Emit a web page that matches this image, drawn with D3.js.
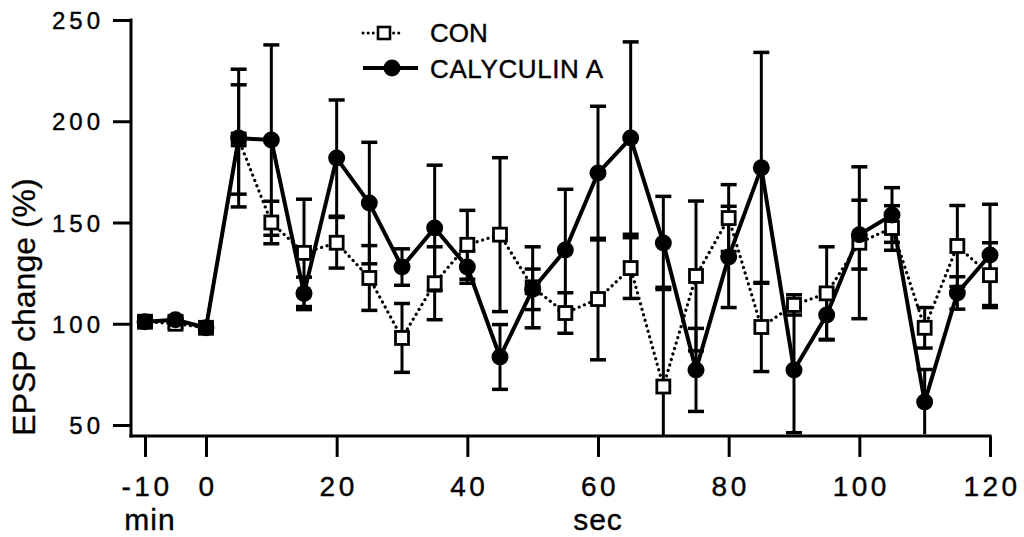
<!DOCTYPE html>
<html>
<head>
<meta charset="utf-8">
<script src="https://cdn.jsdelivr.net/npm/d3@7/dist/d3.min.js"></script>
<style>
  body { margin: 0; background: #fff; }
  svg { display: block; }
  text { font-family: "Liberation Sans", Arial, Helvetica, sans-serif; fill: #000; }
</style>
</head>
<body>
<svg id="chart" width="1024" height="537"></svg>
<script>
// Sampling times: -10 and -5 are minutes before stimulation, 0..120 are seconds after it
const times = [-10, -5, 0, 5, 10, 15, 20, 25, 30, 35, 40, 45, 50, 55, 60,
               65, 70, 75, 80, 85, 90, 95, 100, 105, 110, 115, 120];

// Control (open squares, dotted line): mean EPSP change (%) and SEM
const conMean = [101, 100, 98, 191, 150, 135, 140, 122.6, 93, 120, 139, 144, 118, 105.3, 112.2,
                 127.5, 69, 123.6, 152.2, 98.4, 109.3, 115, 140, 147.3, 98, 138.4, 124];
const conErr  = [2, 2, 2, 27, 10.5, 26.5, 12.5, 16, 17, 18, 17, 38, 20, 10, 30,
                 15, 49, 37, 16.5, 22, 5, 23, 37.5, 11, 10, 20, 16];

// Calyculin A (filled circles, solid line): mean EPSP change (%) and SEM
const calMean = [101, 102, 98, 191.7, 190.7, 115, 181.8, 159.6, 128, 147.3, 128, 83.6, 117, 136.4, 174.4,
                 191.7, 139.9, 77.2, 133, 177, 77.2, 104.3, 144, 153.7, 61.4, 115.2, 134];
const calErr  = [2, 2, 2, 34, 47, 8, 28.7, 30, 9, 31, 8, 16, 10, 30, 33,
                 47.5, 23, 20.5, 25, 57, 31, 12, 17, 13.5, 16, 8, 25];

const xTickValues = [-10, 0, 20, 40, 60, 80, 100, 120];
const yTickValues = [50, 100, 150, 200, 250];
const seriesNames = ["CON", "CALYCULIN A"];
const unitLabels = ["min", "sec"];
const yTitle = "EPSP change (%)";

const svg = d3.select("#chart");

// Broken time axis: minutes section on the left, seconds section after 0
const x = d3.scaleLinear().domain([-10, 0, 120]).range([145, 206, 990]);
const y = d3.scaleLinear().domain([50, 250]).range([425, 20]);
const yFloor = 44.6;             // value where the x axis sits
const axisY = y(yFloor);
const axisX = 131;

// ---- axes ----
const xAxis = d3.axisBottom(x).tickValues(xTickValues).tickSize(21).tickSizeOuter(0)
  .tickFormat(d => String(d));
const gx = svg.append("g").attr("transform", `translate(0,${axisY})`).call(xAxis);
gx.select(".domain").remove();
gx.selectAll(".tick line").attr("stroke", "#000").attr("stroke-width", 3);
gx.selectAll(".tick text")
  .attr("y", 60).attr("dy", null).attr("dx", 1.5)
  .style("font-size", "28px").style("letter-spacing", "3.5px")
  .attr("stroke", "#000").attr("stroke-width", 0.4);

const yAxis = d3.axisLeft(y).tickValues(yTickValues).tickSize(18).tickSizeOuter(0);
const gy = svg.append("g").attr("transform", `translate(${axisX},0)`).call(yAxis);
gy.select(".domain").remove();
gy.selectAll(".tick line").attr("stroke", "#000").attr("stroke-width", 3);
gy.selectAll(".tick text")
  .attr("x", -27).attr("dy", "0.36em")
  .style("font-size", "24px").style("letter-spacing", "4px")
  .attr("stroke", "#000").attr("stroke-width", 0.4);

// axis lines
svg.append("line").attr("x1", axisX).attr("x2", axisX)
  .attr("y1", y(250) - 1.5).attr("y2", axisY + 1.5)
  .attr("stroke", "#000").attr("stroke-width", 3);
svg.append("line").attr("x1", axisX - 1.5).attr("x2", x(120) + 1.5)
  .attr("y1", axisY).attr("y2", axisY)
  .attr("stroke", "#000").attr("stroke-width", 3);

// unit labels under the two axis sections
svg.append("text").attr("x", x(-10) + 5).attr("y", 530).attr("text-anchor", "middle")
  .style("font-size", "30px").style("letter-spacing", "1px")
  .attr("stroke", "#000").attr("stroke-width", 0.4)
  .text(unitLabels[0]);
svg.append("text").attr("x", x(60)).attr("y", 530).attr("text-anchor", "middle")
  .style("font-size", "30px").style("letter-spacing", "1px")
  .attr("stroke", "#000").attr("stroke-width", 0.4)
  .text(unitLabels[1]);

// y title
svg.append("text").attr("transform", "translate(35,307) rotate(-90)")
  .attr("text-anchor", "middle").style("font-size", "32px")
  .attr("stroke", "#000").attr("stroke-width", 0.3)
  .text(yTitle);

// ---- data ----
const con = times.map((t, i) => ({ t, m: conMean[i], e: conErr[i] }));
const cal = times.map((t, i) => ({ t, m: calMean[i], e: calErr[i] }));

const line = d3.line().x(d => x(d.t)).y(d => y(d.m));

svg.append("path").datum(con).attr("d", line)
  .attr("fill", "none").attr("stroke", "#000").attr("stroke-width", 3.2)
  .attr("stroke-linecap", "round").attr("stroke-dasharray", "0.1 5.6");

svg.append("path").datum(cal).attr("d", line)
  .attr("fill", "none").attr("stroke", "#000").attr("stroke-width", 4)
  .attr("stroke-linejoin", "round");

// error bars, clipped where they run into the x axis
function errorBars(data) {
  const g = svg.append("g").attr("stroke", "#000");
  const capW = 8;
  data.forEach(d => {
    const hi = d.m + d.e;
    const loRaw = d.m - d.e;
    const lo = Math.max(loRaw, yFloor);
    const cx = x(d.t);
    g.append("line").attr("x1", cx).attr("x2", cx).attr("y1", y(hi)).attr("y2", y(lo))
      .attr("stroke-width", 3);
    g.append("line").attr("x1", cx - capW).attr("x2", cx + capW)
      .attr("y1", y(hi)).attr("y2", y(hi)).attr("stroke-width", 3.5);
    if (loRaw > yFloor + 1) {
      g.append("line").attr("x1", cx - capW).attr("x2", cx + capW)
        .attr("y1", y(lo)).attr("y2", y(lo)).attr("stroke-width", 3.5);
    }
  });
}
errorBars(con);
errorBars(cal);

// markers
const sq = 13;
svg.append("g").selectAll("rect").data(con).join("rect")
  .attr("x", d => x(d.t) - sq / 2).attr("y", d => y(d.m) - sq / 2)
  .attr("width", sq).attr("height", sq)
  .attr("fill", "#fff").attr("stroke", "#000").attr("stroke-width", 2.8);

svg.append("g").selectAll("circle").data(cal).join("circle")
  .attr("cx", d => x(d.t)).attr("cy", d => y(d.m)).attr("r", 8.5)
  .attr("fill", "#000");

// ---- legend ----
const lg = svg.append("g");
lg.append("line").attr("x1", 363).attr("x2", 403).attr("y1", 33).attr("y2", 33)
  .attr("stroke", "#000").attr("stroke-width", 3).attr("stroke-linecap", "round")
  .attr("stroke-dasharray", "0.1 5");
lg.append("rect").attr("x", 384 - 6).attr("y", 33 - 6).attr("width", 12).attr("height", 12)
  .attr("fill", "#fff").attr("stroke", "#000").attr("stroke-width", 2.6);
lg.append("text").attr("x", 430).attr("y", 42).style("font-size", "26px")
  .attr("stroke", "#000").attr("stroke-width", 0.4).text(seriesNames[0]);

lg.append("line").attr("x1", 363).attr("x2", 418).attr("y1", 68).attr("y2", 68)
  .attr("stroke", "#000").attr("stroke-width", 4);
lg.append("circle").attr("cx", 392).attr("cy", 68).attr("r", 8.5).attr("fill", "#000");
lg.append("text").attr("x", 430).attr("y", 78).style("font-size", "26px")
  .style("letter-spacing", "0.6px")
  .attr("stroke", "#000").attr("stroke-width", 0.4).text(seriesNames[1]);
</script>
</body>
</html>
